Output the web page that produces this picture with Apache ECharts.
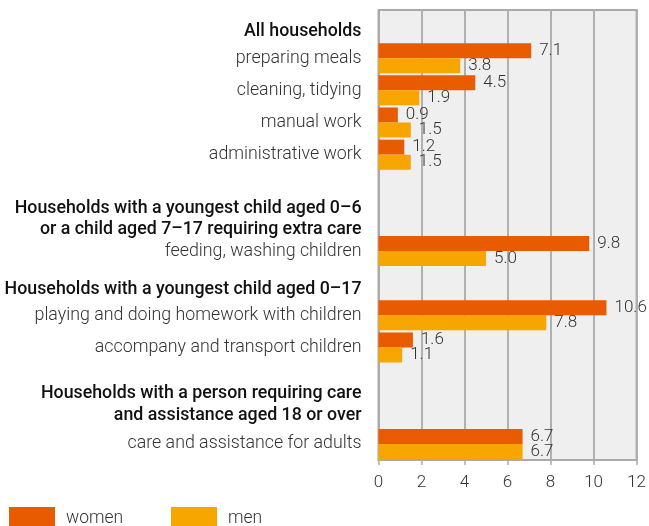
<!DOCTYPE html>
<html>
<head>
<meta charset="utf-8">
<script src="https://cdn.jsdelivr.net/npm/echarts@6/dist/echarts.min.js"></script>
<style>html,body{margin:0;padding:0;background:#fff}#c{width:649px;height:526px}</style>
</head>
<body>
<div id="c"></div>
<script>
var categories = [
  'All households',
  'preparing meals',
  'cleaning, tidying',
  'manual work',
  'administrative work',
  ' ',
  'Households with a youngest child aged 0–6\nor a child aged 7–17 requiring extra care',
  'feeding, washing children',
  'Households with a youngest child aged 0–17',
  'playing and doing homework with children',
  'accompany and transport children',
  '  ',
  'Households with a person requiring care\nand assistance aged 18 or over',
  'care and assistance for adults'
];
var headerRows = [0, 6, 8, 12];
var women = [null, 7.1, 4.5, 0.9, 1.2, null, null, 9.8, null, 10.6, 1.6, null, null, 6.7];
var men   = [null, 3.8, 1.9, 1.5, 1.5, null, null, 5.0, null, 7.8, 1.1, null, null, 6.7];
var xTicks = [0, 2, 4, 6, 8, 10, 12];

var hBase = { fontFamily: 'Roboto', fontSize: 17.8, fontWeight: 500, color: '#111', lineHeight: 21.5 };
function hs(pad) { return Object.assign({}, hBase, { padding: pad }); }
var rich = {
  h: hs([0, 0, 0, 0]),
  hTop0: hs([10, 0, 0, 0]),
  hTop8: hs([13, 0, 0, 0]),
  sp: { fontSize: 10, lineHeight: 14 }
};
function fmtLabel(value, index) {
  if (headerRows.indexOf(index) < 0) return value;
  var lines = value.split('\n');
  var out = lines.map(function (l) {
    var key = 'h';
    if (index === 0) key = 'hTop0';
    if (index === 8) key = 'hTop8';
    return '{' + key + '|' + l + '}';
  }).join('\n');
  if (index === 12) out += '\n{sp| }';
  return out;
}

var chart = echarts.init(document.getElementById('c'), null, { renderer: 'canvas' });
var labelOpt = {
  show: true, position: 'right', distance: 8,
  fontFamily: 'Roboto', fontSize: 17, fontWeight: 300, color: '#333',
  formatter: function (p) { return p.value == null ? '' : p.value.toFixed(1); }
};
var legText = { fontFamily: 'Roboto', fontSize: 17.5, fontWeight: 300, color: '#333', rich: { t: { fontFamily: 'Roboto', fontSize: 17.5, fontWeight: 300, color: '#333', padding: [0, 0, 0, 6] } } };
chart.setOption({
  animation: false,
  textStyle: { fontFamily: 'Roboto' },
  grid: {
    left: 378.5, right: 11, top: 10, bottom: 66,
    show: true, backgroundColor: '#efefef', borderColor: '#aaaaaa', borderWidth: 2
  },
  legend: [
    { left: 9, top: 507, padding: 0, itemWidth: 46, itemHeight: 24, icon: 'rect', textStyle: legText,
      formatter: function (n) { return '{t|' + n + '}'; }, data: ['women'] },
    { left: 171, top: 507, padding: 0, itemWidth: 46, itemHeight: 24, icon: 'rect', textStyle: legText,
      formatter: function (n) { return '{t|' + n + '}'; }, data: ['men'] }
  ],
  xAxis: {
    type: 'value', min: xTicks[0], max: xTicks[xTicks.length - 1], interval: 2,
    axisLine: { show: true, lineStyle: { color: '#aaaaaa', width: 2 } },
    axisTick: { show: true, length: 5, lineStyle: { color: '#aaaaaa', width: 1.5 } },
    axisLabel: { fontFamily: 'Roboto', fontSize: 17, fontWeight: 300, color: '#333', margin: 14 },
    splitLine: { show: true, lineStyle: { color: '#b0b0b0', width: 2 } }
  },
  yAxis: {
    type: 'category', inverse: true, data: categories,
    axisLine: { show: true, lineStyle: { color: '#aaaaaa', width: 2 } },
    axisTick: { show: false },
    axisLabel: { fontFamily: 'Roboto', fontSize: 17.8, fontWeight: 300, color: '#333', margin: 17, interval: 0, align: 'right',
      formatter: fmtLabel, rich: rich }
  },
  series: [
    { name: 'women', type: 'bar', data: women, barWidth: 15, barGap: '0%', itemStyle: { color: '#e95b00' }, label: labelOpt },
    { name: 'men', type: 'bar', data: men, barWidth: 15, barGap: '0%', itemStyle: { color: '#f7a600' }, label: labelOpt }
  ]
});
</script>
</body>
</html>
